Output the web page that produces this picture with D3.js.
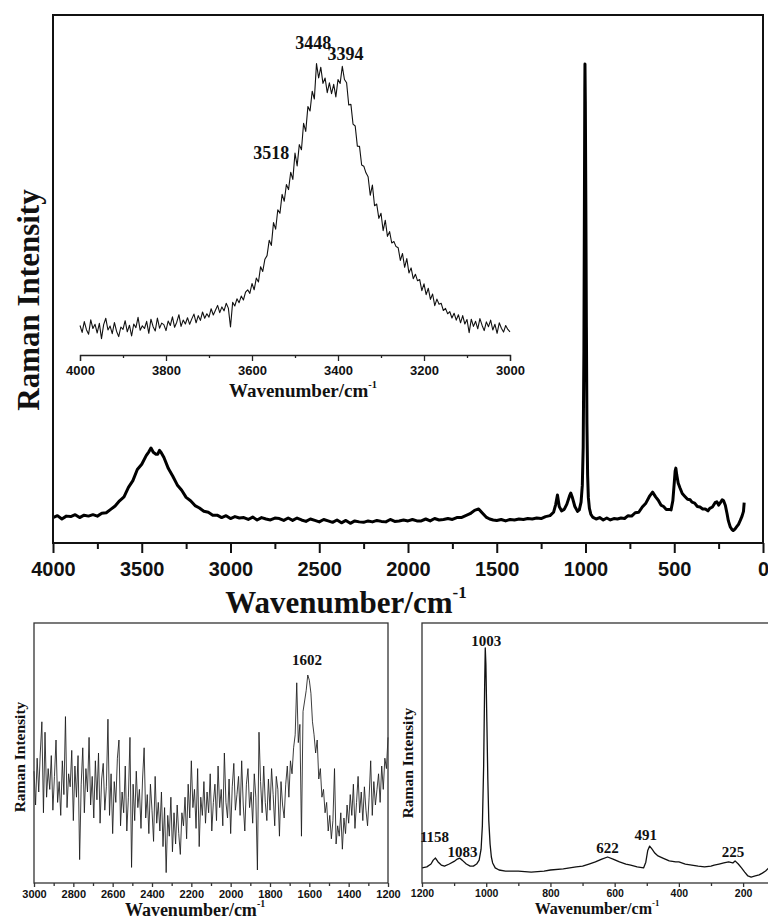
<!DOCTYPE html>
<html>
<head>
<meta charset="utf-8">
<script src="https://cdn.jsdelivr.net/npm/d3@7"></script>
<style>
body{margin:0;background:#fff;}
svg{display:block;}
</style>
</head>
<body>
<svg id="chart" width="768" height="920"></svg>
<script>
var SANS = '"Liberation Sans", Arial, sans-serif';
var SERIF = '"Liberation Serif", "Times New Roman", serif';

// full range spectrum, [wavenumber, intensity]
var mainSpectrum = [
    [4000,5.3],[3975,5.7],[3950,5.0],[3925,5.6],[3900,5.5],[3875,5.9],[3850,5.3],[3825,5.8],[3800,5.6],[3775,5.9],
    [3750,5.6],[3725,6.2],[3700,6.3],[3675,7.0],[3650,7.7],[3625,8.8],[3600,9.6],[3575,11.6],[3550,13.0],[3525,15.3],
    [3500,16.4],[3475,18.2],[3460,19.0],[3448,19.8],[3435,18.9],[3420,18.5],[3410,18.5],[3400,19.3],[3390,18.8],[3375,17.8],
    [3350,15.5],[3325,13.9],[3300,12.1],[3275,11.0],[3250,9.5],[3225,8.8],[3200,7.8],[3175,7.3],[3150,6.6],[3125,6.4],
    [3100,5.8],[3075,5.8],[3050,5.3],[3025,5.7],[3000,5.1],[2975,5.5],[2950,5.2],[2925,5.3],[2900,4.9],[2875,5.4],
    [2850,4.8],[2825,5.3],[2800,5.0],[2775,4.8],[2750,5.2],[2725,5.1],[2700,4.7],[2675,5.2],[2650,4.7],[2625,5.2],
    [2600,4.8],[2575,4.5],[2550,5.0],[2525,4.7],[2500,4.4],[2475,4.9],[2450,4.6],[2425,4.3],[2400,4.8],[2375,4.2],
    [2350,4.7],[2325,4.1],[2300,4.6],[2275,4.4],[2250,4.3],[2225,4.6],[2200,4.4],[2175,4.7],[2150,4.5],[2125,4.4],
    [2100,4.9],[2075,4.5],[2050,4.6],[2025,4.8],[2000,4.6],[1975,4.9],[1950,4.6],[1925,4.6],[1900,5.0],[1875,4.6],
    [1850,5.1],[1825,4.8],[1800,4.9],[1775,5.1],[1750,4.9],[1725,5.3],[1700,5.3],[1675,5.7],[1650,6.1],[1625,6.8],
    [1602,7.1],[1580,6.2],[1560,5.4],[1540,5.0],[1520,4.8],[1500,4.7],[1475,4.9],[1450,4.6],[1425,4.9],[1400,4.8],
    [1375,5.0],[1350,4.9],[1325,5.1],[1300,5.0],[1275,5.2],[1250,5.1],[1225,5.5],[1200,5.7],[1180,6.4],[1168,8.0],
    [1158,10.0],[1148,7.6],[1135,6.7],[1120,7.0],[1105,8.1],[1090,9.8],[1083,10.4],[1075,9.6],[1060,7.6],[1045,6.6],
    [1035,6.9],[1025,8.5],[1018,12],[1013,20],[1009,40],[1006,72],[1004,94],[1003,99.8],[1001,92],[998,70],
    [995,45],[992,25],[988,14],[984,9.5],[978,7.2],[970,6.0],[960,5.4],[940,5.0],[920,5.3],[900,4.8],
    [880,5.2],[860,4.8],[840,5.1],[820,5.0],[800,5.2],[780,5.1],[760,5.7],[740,5.6],[720,6.3],[700,6.4],
    [680,7.5],[660,8.3],[640,9.7],[622,10.6],[605,9.6],[590,8.9],[575,7.9],[560,7.6],[545,7.0],[530,7.0],
    [518,6.9],[508,8.8],[500,12.5],[495,15.0],[491,15.6],[486,14.2],[478,12.5],[468,11.5],[455,10.3],[440,9.7],
    [425,9.1],[410,9.0],[400,8.5],[385,8.3],[370,7.6],[355,7.5],[340,7.1],[325,7.1],[310,6.7],[300,7.2],
    [285,7.5],[270,8.4],[260,8.6],[250,7.9],[240,8.4],[230,9.0],[222,8.8],[212,7.8],[203,6.2],[195,4.6],
    [185,3.4],[175,2.8],[168,2.6],[158,2.9],[148,3.4],[138,3.9],[128,4.7],[118,5.6],[110,6.6],[106,8.4]
];
var mainTicks = [4000, 3500, 3000, 2500, 2000, 1500, 1000, 500, 0];
var mainMinorTicks = [3750, 3250, 2750, 2250, 1750, 1250, 750, 250];

// O-H stretching region (inset), sampled every 5 cm-1 from 4000 down
var insetStart = 4000, insetStep = -5;
var insetIntensity = [
    6.5, 4.2, 7.8, 5.1, 3.6, 8.4, 5.5, 6.9, 4.0, 7.2,
    2.1, 6.8, 8.9, 5.0, 6.3, 3.8, 7.5, 4.6, 2.8, 6.0,
    5.2, 8.1, 4.4, 6.6, 3.0, 7.0, 5.8, 9.2, 4.9, 6.4,
    5.5, 7.9, 3.9, 8.6, 6.1, 4.7, 9.0, 5.6, 7.3, 6.8,
    4.8, 8.0, 6.5, 9.4, 5.9, 7.6, 10.1, 6.2, 8.3, 7.0,
    9.1, 6.9, 8.7, 10.3, 7.4, 9.8, 8.2, 11.0, 8.9, 10.4,
    9.3, 12.1, 10.0, 11.6, 13.2, 10.8, 12.7, 11.4, 13.9, 12.3,
    6.0, 14.2, 13.0, 15.4, 14.1, 16.3, 15.0, 17.6, 18.4, 17.2,
    20.5, 18.4, 22.3, 21.0, 26.1, 24.5, 28.6, 29.8, 34.9, 33.2,
    40.8, 38.6, 45.1, 43.9, 50.2, 47.9, 53.5, 51.8, 57.6, 55.2,
    64.0, 59.7, 66.8, 65.1, 73.9, 71.2, 79.5, 78.0, 84.6, 82.0,
    93.8, 89.0, 92.6, 87.2, 89.0, 84.1, 87.4, 83.8, 86.9, 82.7,
    88.5, 87.2, 92.9, 88.5, 87.4, 80.0, 80.2, 73.6, 73.0, 66.3,
    66.2, 60.0, 59.6, 57.4, 56.1, 49.9, 53.3, 46.4, 47.0, 42.2,
    43.9, 38.1, 41.6, 36.2, 37.8, 34.0, 34.5, 32.8, 32.4, 28.2,
    30.5, 25.9, 28.8, 24.0, 25.7, 22.1, 23.6, 21.4, 21.8, 18.1,
    20.4, 16.8, 18.9, 15.2, 17.0, 13.1, 15.3, 13.6, 13.9, 11.5,
    12.2, 10.4, 11.1, 9.0, 10.6, 8.3, 10.1, 7.4, 9.8, 7.0,
    8.5, 4.1, 8.6, 6.2, 7.9, 5.4, 8.8, 6.6, 4.8, 7.7,
    6.1, 8.3, 5.0, 6.9, 3.9, 7.4, 5.6, 4.3, 6.5, 5.2,
    4.4
];
var insetTicks = [4000, 3800, 3600, 3400, 3200, 3000];
var insetMinorTicks = [3900, 3700, 3500, 3300, 3100];
var insetPeaks = [3448, 3394, 3518];

// 3000-1200 region, sampled every 8 cm-1
var midStart = 3000, midStep = -8;
var midIntensity = [
    43, 30, 48, 35, 50, 62, 27, 58, 33, 44,
    36, 49, 28, 41, 55, 31, 39, 26, 47, 34,
    64, 29, 42, 37, 51, 24, 45, 33, 49, 9,
    38, 52, 27, 44, 35, 56, 30, 41, 25, 47,
    32, 50, 23, 40, 46, 28, 37, 63, 26, 42,
    19, 39, 31, 48, 55, 22, 35, 27, 45, 20,
    33, 56, 6, 38, 24, 43, 29, 36, 21, 40,
    52, 25, 34, 19, 38, 28, 16, 41, 23, 31,
    20, 35, 14, 29, 4, 26, 18, 33, 12, 27,
    15, 30, 19, 11, 27, 22, 33, 17, 38, 25,
    47, 29, 36, 21, 44, 14, 33, 26, 39, 23,
    35, 27, 42, 20, 31, 38, 24, 45, 29, 36,
    22, 50, 31, 25, 40, 19, 37, 46, 28, 34,
    41, 26, 47, 30, 20, 38, 44, 29, 35, 23,
    42, 33, 5, 58, 39, 27, 45, 31, 24, 40,
    28, 44, 34, 22, 41, 36, 18, 39, 30, 25,
    38, 45, 33, 47, 42, 52, 57, 77, 54, 61,
    18, 66, 70, 74, 80, 78, 73, 62, 57, 50,
    55, 40, 44, 33, 36, 27, 31, 20, 26, 17,
    24, 44, 15, 22, 18, 27, 13, 25, 19, 30,
    23, 34, 26, 38, 21, 31, 41, 27, 35, 24,
    37, 28, 22, 33, 47, 26, 39, 30, 36, 42,
    31, 45, 36, 48, 44, 56
];
var midTicks = [3000, 2800, 2600, 2400, 2200, 2000, 1800, 1600, 1400, 1200];
var midMinorTicks = [2900, 2700, 2500, 2300, 2100, 1900, 1700, 1500, 1300];
var midPeaks = [1602];

// fingerprint region, [wavenumber, intensity]
var lowSpectrum = [
    [1200,5.8],[1185,6.2],[1172,7.3],[1165,8.8],[1158,9.6],[1150,8.1],[1140,6.9],[1130,6.5],[1115,7.3],[1100,8.3],
    [1090,9.2],[1083,9.6],[1075,8.8],[1062,7.3],[1050,6.5],[1040,6.5],[1030,7.3],[1022,8.8],[1016,13],[1012,22],
    [1008,45],[1005,75],[1003,90.4],[1001,84],[998,62],[995,40],[992,24],[988,15],[984,10],[980,7.7],
    [972,5.8],[960,5.0],[940,4.6],[900,4.6],[860,4.2],[820,4.6],[800,5.0],[760,5.4],[720,6.2],[700,6.5],
    [680,7.3],[660,8.1],[640,9.2],[622,10.0],[605,9.2],[585,8.1],[565,7.3],[550,6.9],[530,6.2],[510,5.8],
    [503,8.0],[497,12.5],[491,14.2],[484,13.1],[475,11.5],[465,10.4],[450,9.6],[430,8.5],[410,8.1],[400,8.1],
    [380,7.3],[360,6.9],[340,6.5],[320,6.2],[300,6.5],[290,6.9],[275,7.3],[260,7.7],[245,8.1],[232,7.7],
    [225,8.5],[215,7.3],[205,5.8],[195,4.2],[185,2.7],[175,2.3],[162,2.7],[150,3.1],[140,3.8],[130,4.6],
    [120,5.8],[112,8.1]
];
var lowTicks = [1200, 1000, 800, 600, 400, 200];
var lowMinorTicks = [1100, 900, 700, 500, 300];
var lowPeaks = [1158, 1083, 1003, 622, 491, 225];

var conf = {
    main:  {left:53, right:763, top:15, bottom:543, xDomain:[4000,0], yDomain:[0,110]},
    inset: {left:80, right:510, top:45, bottom:345, axisY:355, xDomain:[4000,3000], yDomain:[0,100]},
    mid:   {left:34, right:388, top:623, bottom:883, xDomain:[3000,1200], yDomain:[0,100]},
    low:   {left:422, right:772, top:623, bottom:883, xDomain:[1200,110], yDomain:[0,100]},
    // label offsets from the peak top, [dx, dy]
    insetLabelOffset: [[-4,-15], [5,-6], [-16,-26]],
    midLabelOffset: [[-2,-10]],
    lowLabelOffset: [[-1,-16], [3,-1], [1,-2], [0,-4], [-4,-6], [-2,-4]]
};

var svg = d3.select('#chart');
svg.append('rect').attr('width', 768).attr('height', 920).attr('fill', '#fff');

var makeScales = function(p){
    return {
        x: d3.scaleLinear().domain(p.xDomain).range([p.left, p.right]),
        y: d3.scaleLinear().domain(p.yDomain).range([p.bottom, p.top])
    };
};

var sampled = function(start, step, values){
    return values.map(function(v, i){ return [start + i*step, v]; });
};

var peakTop = function(data, wn){
    var near = data.filter(function(d){ return Math.abs(d[0]-wn) <= 6; });
    return d3.max(near, function(d){ return d[1]; });
};

var drawAxis = function(g, x, y, ticks, minor, o){
    var major = g.append('g')
        .attr('transform', 'translate(0,' + y + ')')
        .call(d3.axisBottom(x).tickValues(ticks).tickSize(o.major).tickSizeOuter(o.major)
            .tickPadding(o.pad).tickFormat(d3.format('d')));
    if(!o.domain){
        major.select('.domain').remove();
    }
    major.selectAll('line,path').attr('stroke', o.color).attr('stroke-width', o.width);
    major.selectAll('text')
        .attr('fill', '#111')
        .style('font-family', SANS)
        .style('font-weight', 'bold')
        .style('font-size', o.size + 'px');

    var mt = g.append('g')
        .attr('transform', 'translate(0,' + y + ')')
        .call(d3.axisBottom(x).tickValues(minor).tickSize(o.minor).tickFormat(''));
    mt.select('.domain').remove();
    mt.selectAll('line').attr('stroke', o.color).attr('stroke-width', o.width);
};

var wavenumberTitle = function(g, x, y, size){
    var t = g.append('text')
        .attr('x', x)
        .attr('y', y)
        .attr('text-anchor', 'middle')
        .attr('fill', '#111')
        .style('font-family', SERIF)
        .style('font-weight', 'bold')
        .style('font-size', size + 'px');
    t.append('tspan').text('Wavenumber/cm');
    t.append('tspan').attr('dy', -0.5*size).style('font-size', (0.55*size) + 'px').text('-1');
};

var intensityTitle = function(g, x, y, size){
    g.append('text')
        .attr('transform', 'translate(' + x + ',' + y + ') rotate(-90)')
        .attr('text-anchor', 'middle')
        .attr('fill', '#111')
        .style('font-family', SERIF)
        .style('font-weight', 'bold')
        .style('font-size', size + 'px')
        .text('Raman Intensity');
};

var drawLine = function(g, s, data, color, width){
    var line = d3.line()
        .x(function(d){ return s.x(d[0]); })
        .y(function(d){ return s.y(d[1]); });
    g.append('path')
        .datum(data)
        .attr('d', line)
        .attr('fill', 'none')
        .attr('stroke', color)
        .attr('stroke-width', width)
        .attr('stroke-linejoin', 'round');
};

var peakLabels = function(g, s, data, peaks, offsets, size){
    peaks.forEach(function(wn, i){
        g.append('text')
            .attr('x', s.x(wn) + offsets[i][0])
            .attr('y', s.y(peakTop(data, wn)) + offsets[i][1])
            .attr('text-anchor', 'middle')
            .attr('fill', '#111')
            .style('font-family', SERIF)
            .style('font-weight', 'bold')
            .style('font-size', size + 'px')
            .text(wn);
    });
};

// Main spectrum
var m = conf.main;
var ms = makeScales(m);
var gMain = svg.append('g');
drawLine(gMain, ms, mainSpectrum, '#000', 3);
gMain.append('rect')
    .attr('x', m.left).attr('y', m.top)
    .attr('width', m.right - m.left).attr('height', m.bottom - m.top)
    .attr('fill', 'none').attr('stroke', '#111').attr('stroke-width', 2);
drawAxis(gMain, ms.x, m.bottom, mainTicks, mainMinorTicks,
    {major:10, minor:6, pad:9, size:20, color:'#111', width:2, domain:false});
wavenumberTitle(gMain, 346, 613, 31);
intensityTitle(gMain, 39, 300, 31);

// Inset
var ins = conf.inset;
var is = makeScales(ins);
var insetData = sampled(insetStart, insetStep, insetIntensity);
var gInset = svg.append('g');
drawLine(gInset, is, insetData, '#111', 1.1);
drawAxis(gInset, is.x, ins.axisY, insetTicks, insetMinorTicks,
    {major:6, minor:3, pad:5, size:13, color:'#222', width:1.3, domain:true});
wavenumberTitle(gInset, 303, 397, 19);
peakLabels(gInset, is, insetData, insetPeaks, conf.insetLabelOffset, 18);

// 3000-1200 panel
var mp = conf.mid;
var mps = makeScales(mp);
var midData = sampled(midStart, midStep, midIntensity);
var gMid = svg.append('g');
drawLine(gMid, mps, midData, '#1a1a1a', 0.85);
gMid.append('rect')
    .attr('x', mp.left).attr('y', mp.top)
    .attr('width', mp.right - mp.left).attr('height', mp.bottom - mp.top)
    .attr('fill', 'none').attr('stroke', '#333').attr('stroke-width', 1.3);
drawAxis(gMid, mps.x, mp.bottom, midTicks, midMinorTicks,
    {major:4, minor:3, pad:3, size:11, color:'#333', width:1.3, domain:false});
wavenumberTitle(gMid, 195, 916, 18);
intensityTitle(gMid, 25, 757, 15.5);
peakLabels(gMid, mps, midData, midPeaks, conf.midLabelOffset, 15);

// fingerprint panel
var lp = conf.low;
var lps = makeScales(lp);
var gLow = svg.append('g');
drawLine(gLow, lps, lowSpectrum, '#111', 1.3);
gLow.append('rect')
    .attr('x', lp.left).attr('y', lp.top)
    .attr('width', lp.right - lp.left).attr('height', lp.bottom - lp.top)
    .attr('fill', 'none').attr('stroke', '#333').attr('stroke-width', 1.3);
drawAxis(gLow, lps.x, lp.bottom, lowTicks, lowMinorTicks,
    {major:4, minor:3, pad:3, size:10.5, color:'#333', width:1.3, domain:false});
wavenumberTitle(gLow, 597, 914, 16);
intensityTitle(gLow, 413, 763, 15.5);
peakLabels(gLow, lps, lowSpectrum, lowPeaks, conf.lowLabelOffset, 15);
</script>
</body>
</html>
